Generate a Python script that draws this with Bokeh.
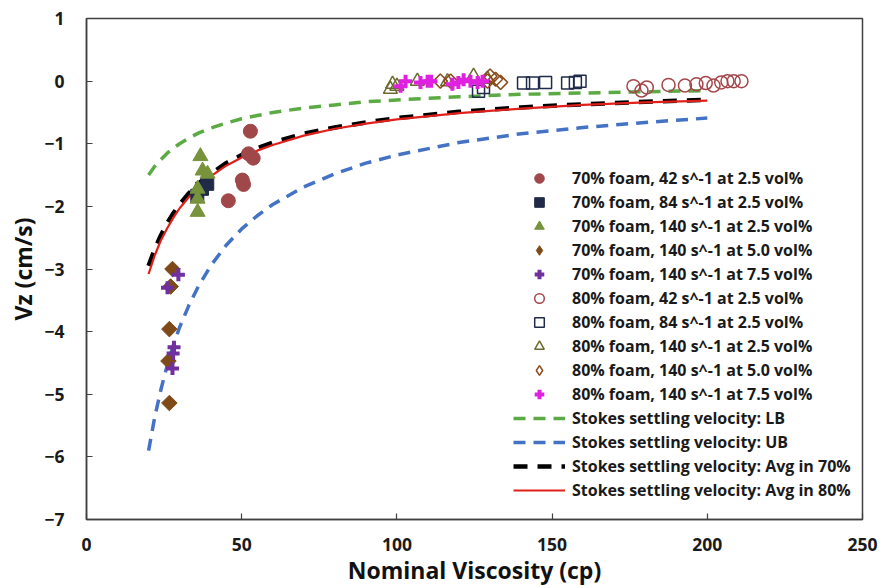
from bokeh.plotting import figure
from bokeh.models import Legend, LegendItem, Range1d, FixedTicker, ColumnDataSource, CDSView, IndexFilter
from bokeh.embed import file_html
from bokeh.resources import INLINE

# ---------------- data ----------------
f70_42_x = [52.8, 53.7, 52.2, 50.2, 50.6, 45.7]
f70_42_y = [-0.80, -1.23, -1.16, -1.58, -1.65, -1.91]
f70_84_x = [38.9, 37.2, 35.7]
f70_84_y = [-1.64, -1.72, -1.83]
f70_140a_x = [36.7, 37.4, 39.0, 35.8, 35.8, 35.8]
f70_140a_y = [-1.20, -1.43, -1.48, -1.72, -1.88, -2.09]
f70_140b_x = [27.7, 27.1, 26.7, 26.4, 26.7]
f70_140b_y = [-3.00, -3.28, -3.96, -4.47, -5.14]
f70_140c_x = [29.6, 26.1, 28.2, 27.9, 27.7]
f70_140c_y = [-3.09, -3.30, -4.25, -4.35, -4.59]

f80_42_x = [176.2, 178.8, 180.5, 187.5, 192.8, 196.5, 199.5, 202.0, 204.5, 206.5, 208.5, 211.0]
f80_42_y = [-0.08, -0.15, -0.10, -0.06, -0.07, -0.05, -0.03, -0.07, -0.02, 0.00, 0.00, 0.00]
f80_84_x = [126.3, 127.9, 140.8, 143.7, 147.9, 155.0, 157.5, 159.0]
f80_84_y = [-0.16, -0.10, -0.03, -0.03, -0.02, -0.03, -0.02, 0.00]
f80_140a_x = [97.9, 98.6, 100.0, 106.6, 116.3, 124.7, 129.2]
f80_140a_y = [-0.13, -0.05, -0.08, 0.00, -0.01, 0.08, 0.03]
f80_140b_x = [114.0, 117.3, 129.2, 130.0, 131.8, 133.4]
f80_140b_y = [0.00, 0.00, 0.00, 0.08, 0.03, -0.02]
f80_140c_x = [101.2, 102.8, 107.6, 109.9, 111.0, 117.9, 119.8, 121.5, 123.7, 126.0, 127.6]
f80_140c_y = [-0.08, 0.00, -0.02, 0.00, 0.00, -0.05, -0.02, 0.02, 0.00, -0.02, 0.00]

curve_x = [20, 22, 24, 26, 28, 30, 33, 36, 40, 45, 50, 55, 60, 70, 80, 90, 100, 120, 140, 160, 180, 200]
lb_y = [-1.50, -1.36, -1.25, -1.15, -1.07, -1.00, -0.91, -0.83, -0.75, -0.67, -0.60, -0.55, -0.50,
        -0.43, -0.38, -0.33, -0.30, -0.25, -0.21, -0.19, -0.17, -0.15]
ub_y = [-5.90, -5.36, -4.92, -4.54, -4.21, -3.93, -3.58, -3.28, -2.95, -2.62, -2.36, -2.15, -1.97,
        -1.69, -1.48, -1.31, -1.18, -0.98, -0.84, -0.74, -0.66, -0.59]
avg70_y = [-2.95, -2.68, -2.46, -2.27, -2.11, -1.97, -1.79, -1.64, -1.48, -1.31, -1.18, -1.07, -0.98,
           -0.84, -0.74, -0.66, -0.59, -0.49, -0.42, -0.37, -0.33, -0.30]
avg80_y = [-3.08, -2.78, -2.54, -2.35, -2.18, -2.03, -1.85, -1.69, -1.52, -1.35, -1.22, -1.11, -1.02,
           -0.87, -0.76, -0.68, -0.61, -0.51, -0.44, -0.38, -0.34, -0.31]

x_ticks = [0, 50, 100, 150, 200, 250]
y_ticks = [1, 0, -1, -2, -3, -4, -5, -6, -7]

FONT = "Open Sans"

p = figure(width=887, height=588, output_backend="svg", toolbar_location=None,
           x_range=Range1d(0, 250), y_range=Range1d(-7, 1))
p.min_border_left = 86
p.min_border_right = 25
p.min_border_top = 18
p.min_border_bottom = 67
p.xgrid.visible = False
p.ygrid.visible = False
p.outline_line_color = "#404040"
p.outline_line_width = 1.5
p.background_fill_color = "white"
p.border_fill_color = "white"

for ax in (p.xaxis[0], p.yaxis[0]):
    ax.axis_line_color = "#404040"
    ax.axis_line_width = 1.5
    ax.major_tick_in = 6
    ax.major_tick_out = 0
    ax.minor_tick_line_color = None
    ax.major_tick_line_color = "#404040"
    ax.major_tick_line_width = 1.2
    ax.major_label_text_font = FONT
    ax.major_label_text_font_style = "bold"
    ax.major_label_text_font_size = "17.5px"
    ax.major_label_text_color = "#1a1a1a"
    ax.axis_label_text_font = FONT
    ax.axis_label_text_font_style = "bold"
    ax.axis_label_text_font_size = "23px"
    ax.axis_label_text_color = "#111111"

p.xaxis.ticker = FixedTicker(ticks=x_ticks)
p.yaxis.ticker = FixedTicker(ticks=y_ticks)
p.xaxis.axis_label = "Nominal Viscosity (cp)"
p.yaxis.axis_label = "Vz (cm/s)"
p.xaxis.major_label_standoff = 18
p.xaxis.axis_label_standoff = 0
p.yaxis.major_label_standoff = 22
p.yaxis.axis_label_standoff = 2

# ---- curves ----
r_lb = p.line(curve_x, lb_y, line_color="#5BAA44", line_width=3.5, line_dash="12 8")
r_ub = p.line(curve_x, ub_y, line_color="#4472C4", line_width=3.5, line_dash="12 8")
r_a70 = p.line(curve_x, avg70_y, line_color="black", line_width=4.5, line_dash="14 10")
r_a80 = p.line(curve_x, avg80_y, line_color="#E0201B", line_width=2.2)

# ---- scatter ----
src4 = ColumnDataSource(dict(x=f70_140b_x, y=f70_140b_y))
src9 = ColumnDataSource(dict(x=f80_140b_x, y=f80_140b_y))

# legend symbols for the two diamond series (the legend draws markers unrotated);
# each shows one tiny point that is covered by the marks drawn afterwards
l4 = p.scatter("x", "y", source=src4, view=CDSView(filter=IndexFilter([0])), marker="diamond", size=1,
               fill_color="#7E4A17", line_color="#7E4A17")
l9 = p.scatter("x", "y", source=src9, view=CDSView(filter=IndexFilter([1])), marker="diamond", size=1,
               fill_color=None, line_color="#8B4A1A", line_width=1.5)

r1 = p.scatter(f70_42_x, f70_42_y, marker="circle", size=14, fill_color="#A0474A", line_color="#A0474A")
r2 = p.scatter(f70_84_x, f70_84_y, marker="square", size=13, fill_color="#1F2B48", line_color="#1F2B48")
r3 = p.scatter(f70_140a_x, f70_140a_y, marker="triangle", size=15, fill_color="#77933C", line_color="#77933C")
r4 = p.scatter("x", "y", source=src4, marker="square", angle=0.785398, size=11,
               fill_color="#7E4A17", line_color="#7E4A17")
r5 = p.scatter(f70_140c_x, f70_140c_y, marker="cross", size=13, line_color="#7030A0", line_width=4)
r6 = p.scatter(f80_42_x, f80_42_y, marker="circle", size=13, fill_color=None, line_color="#A5474A", line_width=1.5)
r7 = p.scatter(f80_84_x, f80_84_y, marker="square", size=12, fill_color=None, line_color="#1F2B48", line_width=1.5)
r8 = p.scatter(f80_140a_x, f80_140a_y, marker="triangle", size=14, fill_color=None, line_color="#6B6B2E", line_width=1.5)
r9 = p.scatter("x", "y", source=src9, marker="square", angle=0.785398, size=10,
               fill_color=None, line_color="#8B4A1A", line_width=1.5)
r10 = p.scatter(f80_140c_x, f80_140c_y, marker="cross", size=13, line_color="#E020E0", line_width=4)

labels = [
    ("70% foam, 42 s^-1 at 2.5 vol%", r1),
    ("70% foam, 84 s^-1 at 2.5 vol%", r2),
    ("70% foam, 140 s^-1 at 2.5 vol%", r3),
    ("70% foam, 140 s^-1 at 5.0 vol%", l4),
    ("70% foam, 140 s^-1 at 7.5 vol%", r5),
    ("80% foam, 42 s^-1 at 2.5 vol%", r6),
    ("80% foam, 84 s^-1 at 2.5 vol%", r7),
    ("80% foam, 140 s^-1 at 2.5 vol%", r8),
    ("80% foam, 140 s^-1 at 5.0 vol%", l9),
    ("80% foam, 140 s^-1 at 7.5 vol%", r10),
    ("Stokes settling velocity: LB", r_lb),
    ("Stokes settling velocity: UB", r_ub),
    ("Stokes settling velocity: Avg in 70%", r_a70),
    ("Stokes settling velocity: Avg in 80%", r_a80),
]
legend = Legend(items=[LegendItem(label=t, renderers=[r]) for t, r in labels],
                location=(427, 17), margin=0, padding=0, spacing=0,
                glyph_width=52, glyph_height=24, label_height=24,
                label_standoff=7,
                label_text_font=FONT, label_text_font_style="bold",
                label_text_font_size="16px", label_text_color="#1a1a1a",
                border_line_alpha=0, background_fill_alpha=0)
p.add_layout(legend)

open("out.html", "w").write(file_html(p, INLINE))
